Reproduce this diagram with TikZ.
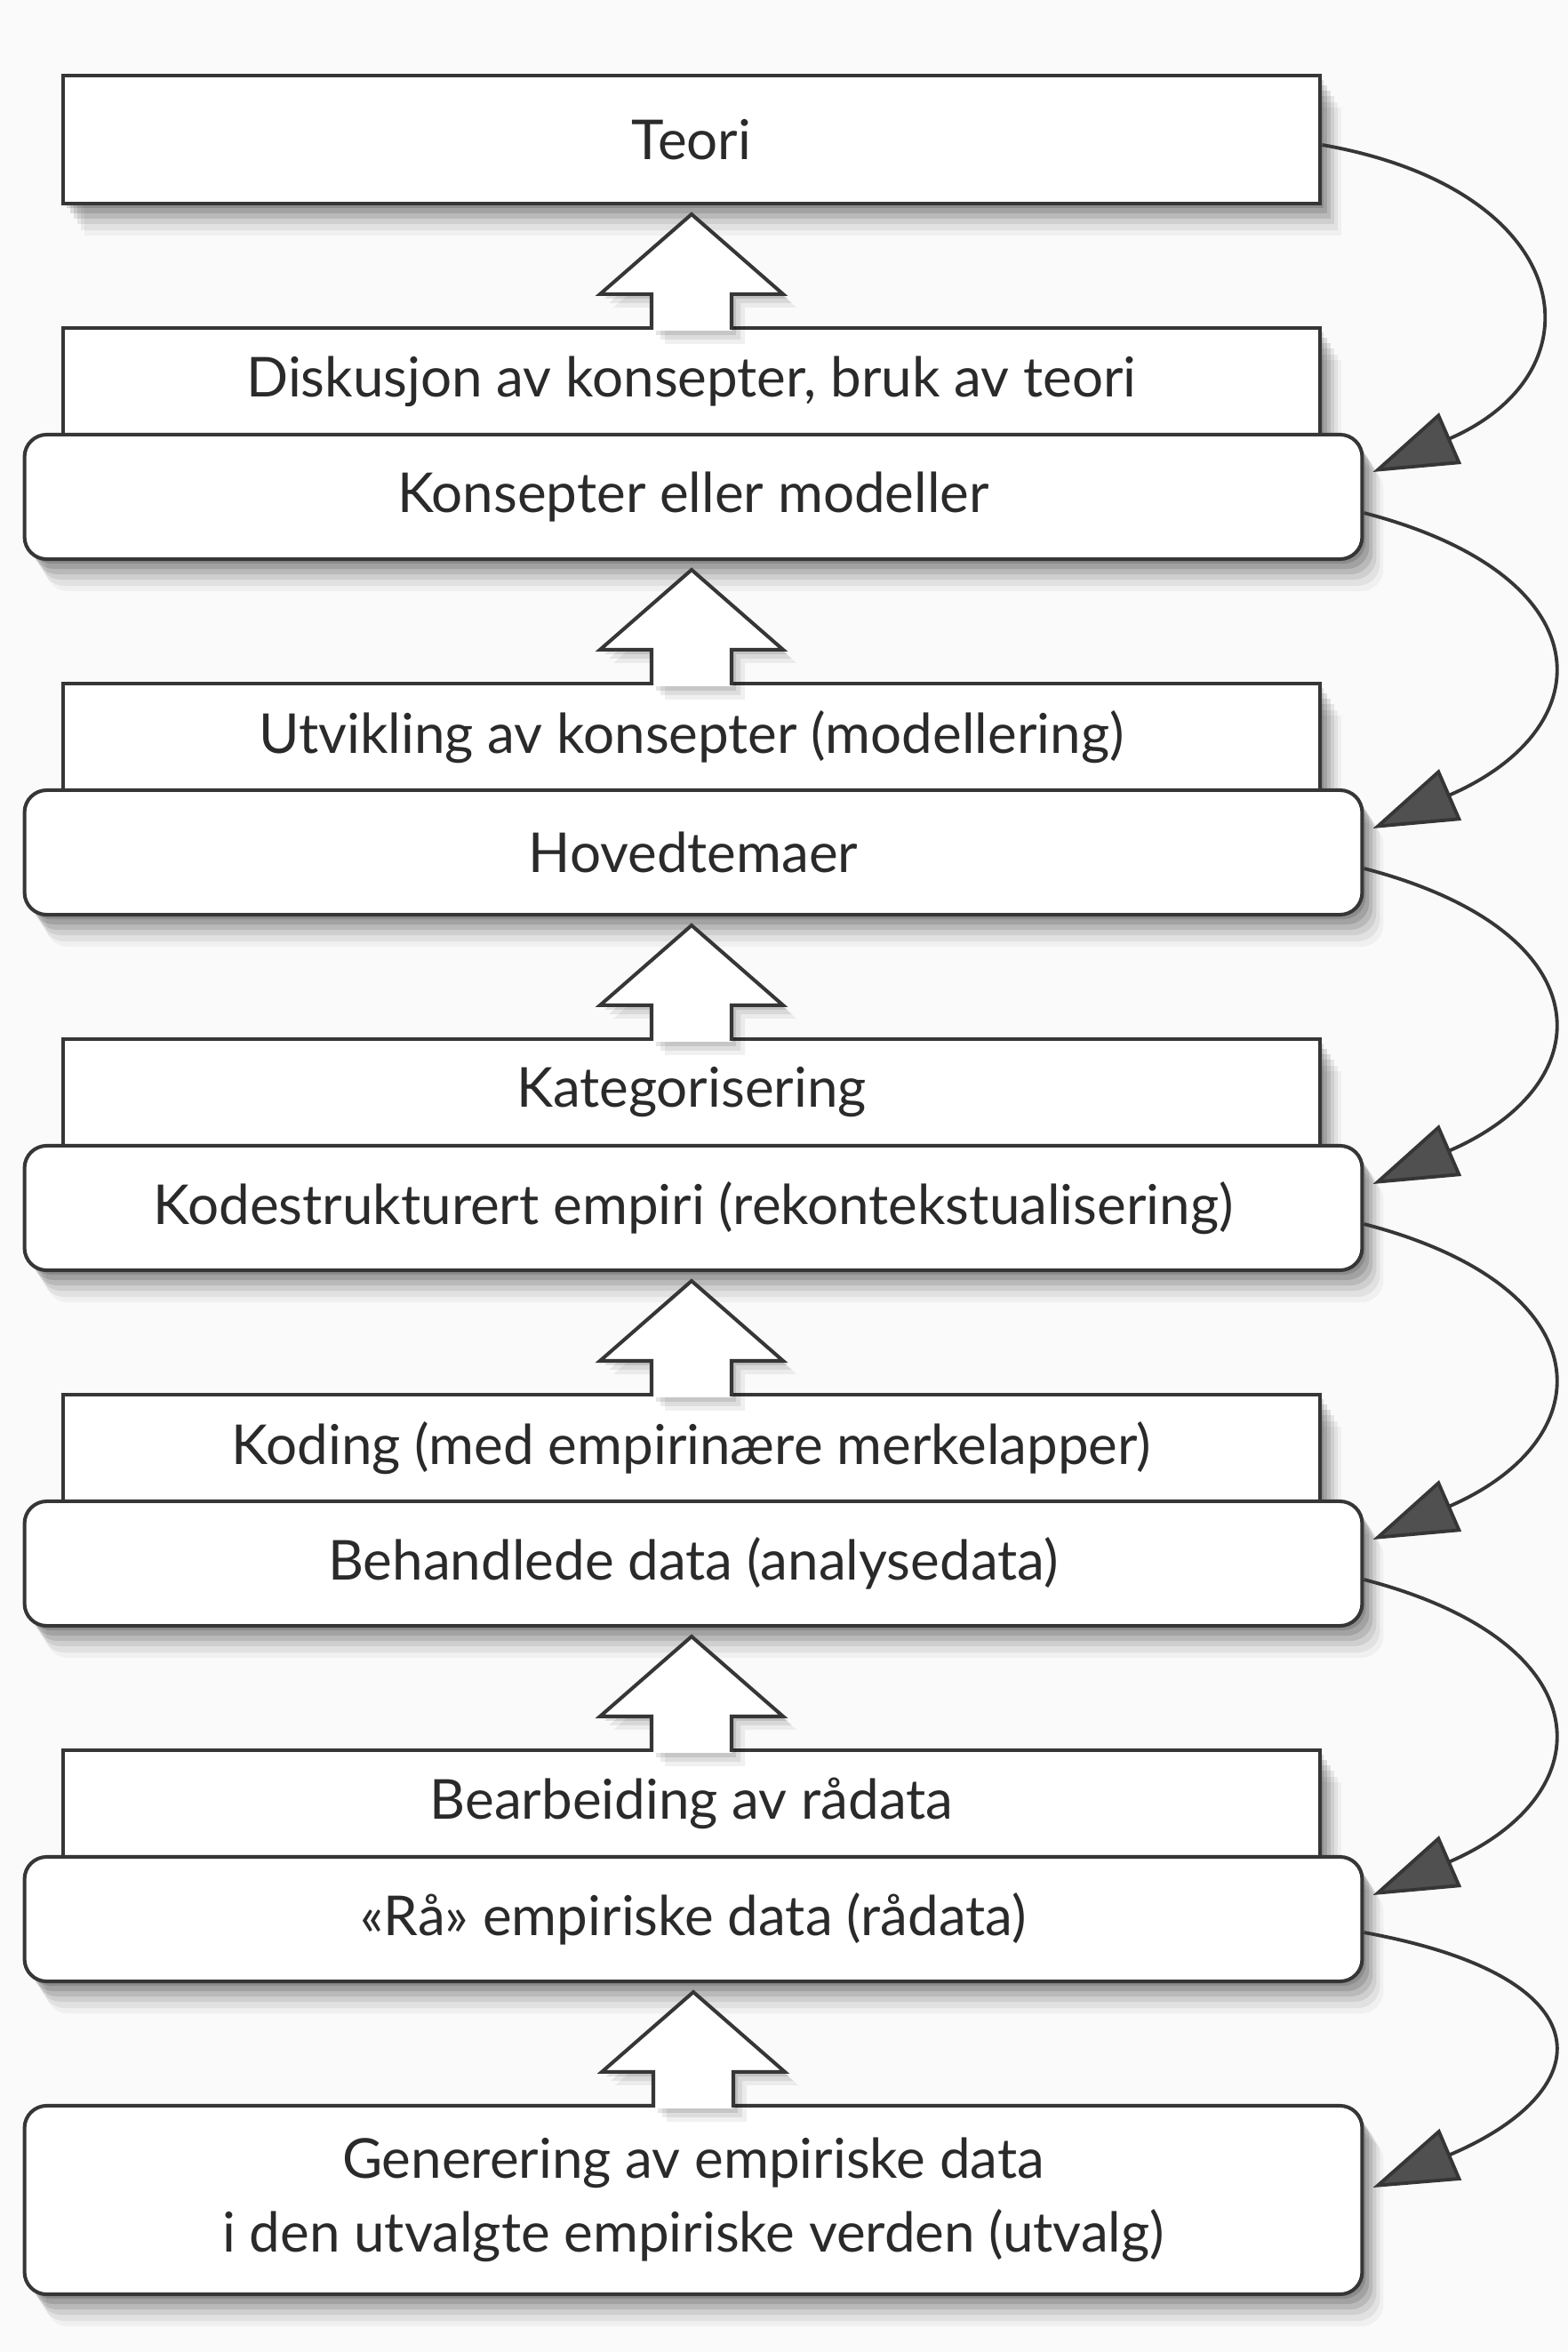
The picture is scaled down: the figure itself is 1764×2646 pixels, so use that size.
\documentclass[tikz,border=0pt]{standalone}
\usepackage{fontspec}
\setmainfont{Lato}
\usetikzlibrary{arrows.meta,calc}
\definecolor{ink}{HTML}{363636}
\definecolor{txt}{HTML}{2A2A2A}
\definecolor{headfill}{HTML}{505050}
\definecolor{paper}{HTML}{FAFAFA}
\tikzset{
  x=0.01cm, y=-0.01cm,
  shadowed/.style={
    preaction={fill=black,opacity=0.13,transform canvas={xshift=0.04cm,yshift=-0.05cm}},
    preaction={fill=black,opacity=0.12,transform canvas={xshift=0.08cm,yshift=-0.11cm}},
    preaction={fill=black,opacity=0.10,transform canvas={xshift=0.12cm,yshift=-0.17cm}},
    preaction={fill=black,opacity=0.08,transform canvas={xshift=0.16cm,yshift=-0.23cm}},
    preaction={fill=black,opacity=0.06,transform canvas={xshift=0.20cm,yshift=-0.30cm}},
    preaction={fill=black,opacity=0.04,transform canvas={xshift=0.24cm,yshift=-0.36cm}}},
  basebox/.style={draw=ink, line width=1.15pt, fill=white, inner sep=0pt, outer sep=0pt,
    text=txt, font=\fontsize{17.6}{21.5}\selectfont, align=center, shadowed},
  sqbox/.style={basebox, rectangle, minimum width=14.14cm, minimum height=1.20cm},
  rbox/.style={basebox, rectangle, rounded corners=0.25cm, minimum width=15.04cm, minimum height=1.40cm},
  arrfill/.style={fill=white,
    preaction={fill=black,opacity=0.10,transform canvas={xshift=0.05cm,yshift=-0.05cm}},
    preaction={fill=black,opacity=0.08,transform canvas={xshift=0.10cm,yshift=-0.10cm}},
    preaction={fill=black,opacity=0.06,transform canvas={xshift=0.15cm,yshift=-0.15cm}}},
  arrline/.style={draw=ink, line width=1.15pt, line join=miter},
  curv/.style={draw=ink, line width=1.1pt,
    -{Triangle[length=0.95cm,width=0.62cm,fill=headfill]}},
}
\newcommand{\blockup}[2]{%
  \fill[arrfill] ($(#1.north)+(-45,3)$) -- ($(#1.north)+(-45,-38)$) -- ($(#1.north)+(-103,-38)$)
    -- ($(#2.south -| #1.north)+(0,12)$) -- ($(#1.north)+(103,-38)$) -- ($(#1.north)+(45,-38)$)
    -- ($(#1.north)+(45,3)$) -- cycle;
  \draw[arrline] ($(#1.north)+(-45,2)$) -- ($(#1.north)+(-45,-38)$) -- ($(#1.north)+(-103,-38)$)
    -- ($(#2.south -| #1.north)+(0,12)$) -- ($(#1.north)+(103,-38)$) -- ($(#1.north)+(45,-38)$)
    -- ($(#1.north)+(45,2)$);
}
\begin{document}
\begin{tikzpicture}
\fill[paper] (0,0) rectangle (1764,2646);
\useasboundingbox (0,0) rectangle (1764,2646);

\node[sqbox, minimum height=1.44cm] (teori) at (778,157) {Teori};

\node[sqbox] (disk) at (778,429) {Diskusjon av konsepter, bruk av teori};
\node[rbox]  (kons) at (780,559) {Konsepter eller modeller};

\node[sqbox] (utv)  at (778,829) {Utvikling av konsepter (modellering)};
\node[rbox]  (hov)  at (780,959) {Hovedtemaer};

\node[sqbox] (kat)  at (778,1229) {Kategorisering};
\node[rbox]  (kode) at (780,1359) {Kodestrukturert empiri (rekontekstualisering)};

\node[sqbox] (kod)  at (778,1629) {Koding (med empirinære merkelapper)};
\node[rbox]  (beh)  at (780,1759) {Behandlede data (analysedata)};

\node[sqbox] (bear) at (778,2029) {Bearbeiding av rådata};
\node[rbox]  (raa)  at (780,2159) {«Rå» empiriske data (rådata)};

\node[rbox, minimum height=2.12cm] (gen) at (780,2475)
  {Generering av empiriske data\\[2pt]i den utvalgte empiriske verden (utvalg)};

\blockup{disk}{teori}
\blockup{utv}{kons}
\blockup{kat}{hov}
\blockup{kod}{kode}
\blockup{bear}{beh}
\blockup{gen}{raa}

\draw[curv] ($(teori.east)+(2,6)$) .. controls +(285,50) and +(262,-114) .. ($(kons.east)+(12,-28)$);
\draw[curv] ($(kons.east)+(2,18)$) .. controls +(270,70) and +(262,-114) .. ($(hov.east)+(12,-27)$);
\draw[curv] ($(hov.east)+(2,18)$) .. controls +(270,70) and +(262,-114) .. ($(kode.east)+(12,-27)$);
\draw[curv] ($(kode.east)+(2,18)$) .. controls +(270,70) and +(262,-114) .. ($(beh.east)+(12,-27)$);
\draw[curv] ($(beh.east)+(2,18)$) .. controls +(270,70) and +(262,-114) .. ($(raa.east)+(12,-27)$);
\draw[curv] ($(raa.east)+(2,15)$) .. controls +(275,50) and +(258,-110) .. ($(gen.east)+(12,-14)$);
\end{tikzpicture}
\end{document}
